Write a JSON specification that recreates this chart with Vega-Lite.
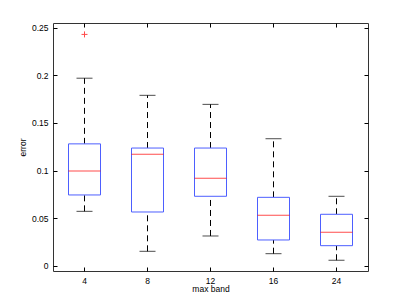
{
  "$schema": "https://vega.github.io/schema/vega-lite/v6.json",
  "width": 315,
  "height": 248,
  "autosize": {"type": "none"},
  "padding": {"left": 53, "top": 23, "right": 39, "bottom": 35},
  "background": "white",
  "config": {
    "view": {"stroke": "#333333", "strokeWidth": 1},
    "font": "Liberation Sans",
    "axis": {
      "domain": false,
      "grid": false,
      "tickColor": "#000000",
      "tickSize": -4,
      "labelFontSize": 8.5,
      "labelColor": "#000000",
      "titleFontSize": 8.5,
      "titleFontWeight": "normal",
      "titleColor": "#000000",
      "labelPadding": 9
    }
  },
  "datasets": {
    "boxes": [
      {"band": "4", "lo": 0.0571, "q1": 0.0743, "med": 0.0995, "q3": 0.128, "hi": 0.197},
      {"band": "8", "lo": 0.0151, "q1": 0.0564, "med": 0.117, "q3": 0.1236, "hi": 0.179},
      {"band": "12", "lo": 0.0312, "q1": 0.0729, "med": 0.0918, "q3": 0.1236, "hi": 0.1695},
      {"band": "16", "lo": 0.0126, "q1": 0.027, "med": 0.0529, "q3": 0.0718, "hi": 0.1334},
      {"band": "24", "lo": 0.0057, "q1": 0.021, "med": 0.035, "q3": 0.054, "hi": 0.0729}
    ],
    "outliers": [
      {"band": "4", "value": 0.243}
    ]
  },
  "data": {"name": "boxes"},
  "resolve": {"axis": {"x": "independent", "y": "independent"}},
  "layer": [
    {
      "mark": {"type": "rule", "color": "#000000", "strokeDash": [6, 4], "strokeWidth": 1},
      "encoding": {
        "x": {"field": "band", "type": "ordinal", "sort": ["4", "8", "12", "16", "24"],
              "scale": {"paddingInner": 0, "paddingOuter": 0},
              "axis": {"orient": "bottom", "title": "max band", "labelAngle": 0, "titlePadding": 0}},
        "y": {"field": "q3", "type": "quantitative",
              "scale": {"domain": [-0.0056, 0.255], "nice": false, "zero": false},
              "axis": {"orient": "left", "title": "error", "format": "~g", "values": [0, 0.05, 0.1, 0.15, 0.2, 0.25], "titlePadding": 4}},
        "y2": {"field": "hi"}
      }
    },
    {
      "mark": {"type": "rule", "color": "#000000", "strokeDash": [6, 4], "strokeWidth": 1},
      "encoding": {
        "x": {"field": "band", "type": "ordinal", "sort": ["4", "8", "12", "16", "24"],
              "axis": {"orient": "top", "title": null, "labels": false}},
        "y": {"field": "lo", "type": "quantitative",
              "axis": {"orient": "right", "title": null, "labels": false, "values": [0, 0.05, 0.1, 0.15, 0.2, 0.25]}},
        "y2": {"field": "q1"}
      }
    },
    {
      "mark": {"type": "tick", "color": "#000000", "size": 16, "thickness": 1, "orient": "horizontal"},
      "encoding": {
        "x": {"field": "band", "type": "ordinal", "sort": ["4", "8", "12", "16", "24"], "axis": null},
        "y": {"field": "hi", "type": "quantitative", "axis": null}
      }
    },
    {
      "mark": {"type": "tick", "color": "#000000", "size": 16, "thickness": 1, "orient": "horizontal"},
      "encoding": {
        "x": {"field": "band", "type": "ordinal", "sort": ["4", "8", "12", "16", "24"], "axis": null},
        "y": {"field": "lo", "type": "quantitative", "axis": null}
      }
    },
    {
      "mark": {"type": "bar", "fill": "white", "stroke": "#4d5fff", "strokeWidth": 1, "width": 32},
      "encoding": {
        "x": {"field": "band", "type": "ordinal", "sort": ["4", "8", "12", "16", "24"], "axis": null},
        "y": {"field": "q1", "type": "quantitative", "axis": null},
        "y2": {"field": "q3"}
      }
    },
    {
      "mark": {"type": "tick", "color": "#ff0000", "size": 32, "thickness": 1, "orient": "horizontal"},
      "encoding": {
        "x": {"field": "band", "type": "ordinal", "sort": ["4", "8", "12", "16", "24"], "axis": null},
        "y": {"field": "med", "type": "quantitative", "axis": null}
      }
    },
    {
      "data": {"name": "outliers"},
      "mark": {"type": "point", "shape": "M-1,0H1M0,-1V1", "size": 36, "stroke": "#ff0000", "strokeWidth": 1, "filled": false},
      "encoding": {
        "x": {"field": "band", "type": "ordinal", "sort": ["4", "8", "12", "16", "24"], "axis": null},
        "y": {"field": "value", "type": "quantitative", "axis": null}
      }
    }
  ]
}
